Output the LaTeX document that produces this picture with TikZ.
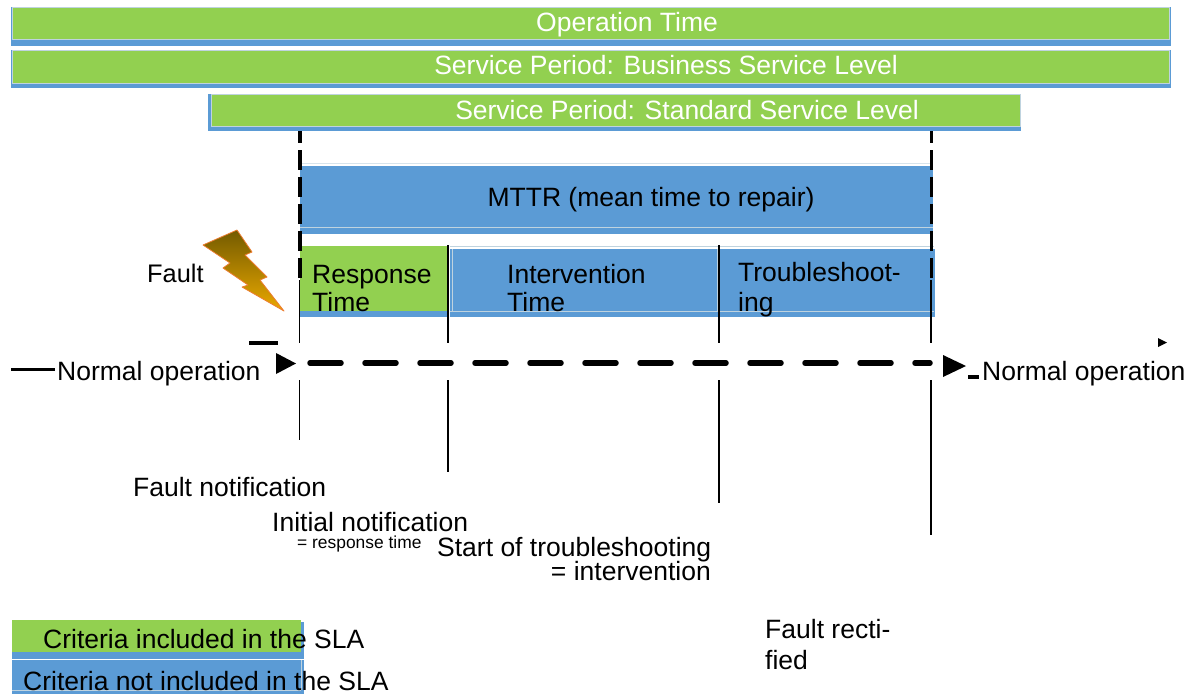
\documentclass[tikz,border=0pt]{standalone}
\usepackage{fontspec}
\setmainfont{Liberation Sans}
\definecolor{barG}{HTML}{92D050}
\definecolor{barB}{HTML}{5B9BD5}
\definecolor{edgeL}{HTML}{BFD3DF}
\definecolor{boltTop}{HTML}{735A00}
\definecolor{boltBot}{HTML}{EBA900}
\definecolor{boltEdge}{HTML}{ED7D31}
\tikzset{
  blueband/.style={fill=barB,draw=none},
  greenband/.style={fill=barG,draw=edgeL,line width=.8pt},
  lab/.style={font=\fontsize{26.5}{30}\selectfont,anchor=base west,inner sep=0pt,text=black},
  whitelab/.style={font=\fontsize{26.5}{30}\selectfont,anchor=base,inner sep=0pt,text=white},
  tick/.style={draw=black,line width=1.2pt},
  dashv/.style={draw=black,line width=3.2pt,dash pattern=on 20pt off 7pt,dash phase=8pt},
  dashh/.style={draw=black,line width=5.5pt,line cap=round,dash pattern=on 31pt off 24pt},
  tri/.style={fill=black,draw=none},
}
\newcommand{\bandbar}[8]{% name x0 y0 x1 ymid y1 greenx0 greenx1
  \path[blueband] (#2,#3) rectangle (#4,#6);
  \path[greenband] (#7,#3) rectangle (#8,#5);
  \coordinate (#1) at ({(#2+#4)/2},{(#3+#5)/2});
}
\begin{document}
\begin{tikzpicture}[x=1pt,y=-1pt]
\useasboundingbox[fill=white] (0,0) rectangle (1194,694);
% top bars
\bandbar{opbar}{11}{7}{1171}{39.5}{46}{12}{1169}
\bandbar{busbar}{11}{50}{1171}{83}{88}{12}{1169}
\bandbar{stdbar}{208}{94}{1021}{126.5}{131}{211}{1020}
\node[whitelab] (optime) at (627,31) {Operation Time};
\node[whitelab] (bustime) at (666,74) {Service Period: Business Service Level};
\node[whitelab] (stdtime) at (687,119) {Service Period: Standard Service Level};
% MTTR band
\draw[edgeL!60,line width=.8pt] (301,163) -- (932,163);
\path[blueband] (300,166) rectangle (933,233.5);
\draw[edgeL,line width=.8pt] (300,227) -- (933,227);
\node[font=\fontsize{26.5}{30}\selectfont,inner sep=0pt,anchor=base] (mttr) at (651,206) {MTTR (mean time to repair)};
% phases
\path[blueband] (300,246) rectangle (448,317);
\path[fill=barG] (300,246) rectangle (448,311);
\path[blueband] (450,249) rectangle (935,317);
\draw[edgeL,line width=.8pt] (450,246) -- (934,246);
\draw[edgeL,line width=.8pt] (450,311) -- (934,311);
\draw[edgeL,line width=.8pt] (452,249) -- (452,311);
\draw[edgeL,line width=.8pt] (717,249) -- (717,311);
\node[lab] (resp1) at (312,283) {Response};
\node[lab] (resp2) at (312,311) {Time};
\node[lab] (int1) at (507,283) {Intervention};
\node[lab] (int2) at (507,311) {Time};
\node[lab] (tr1) at (738,281) {Troubleshoot-};
\node[lab] (tr2) at (738,311) {ing};
% named ends of the markers
\foreach \n/\x/\a/\b/\c/\d in {p/299.5/280/343/380/440,q/448/245/343/380/472,r/719/245/343/380/503,s/931/280/343/380/535}{
  \coordinate (\n1) at (\x,\a);
  \coordinate (\n2) at (\x,\b);
  \coordinate (\n3) at (\x,\c);
  \coordinate (\n4) at (\x,\d);
  \draw[tick] (\n1) -- (\n2);
  \draw[tick] (\n3) -- (\n4);
}
\coordinate (pt) at (300,131); \coordinate (pb) at (300,280);
\coordinate (st) at (931.5,131); \coordinate (sb) at (931.5,280);
\draw[dashv] (pt) -- (pb);
\draw[dashv] (st) -- (sb);
% time axis
\coordinate (ha) at (310,363); \coordinate (hb) at (930,363);
\draw[dashh] (ha) -- (hb);
\path[tri] (276,353) -- (296,363.5) -- (276,374) -- cycle;
\path[tri] (943,355) -- (966,366) -- (943,377) -- cycle;
\path[tri] (1158,338) -- (1167,342.5) -- (1158,347) -- cycle;
\path[fill=black] (249,341) rectangle (278,344.5);
\path[fill=black] (11,367.5) rectangle (55,370.5);
\path[fill=black] (968,375) rectangle (979,379);
% bolt
\path[shade,top color=boltTop,bottom color=boltBot,draw=boltEdge,line width=.8pt,line join=round]
  (237,230) -- (203,245) -- (230,263) -- (223,268) -- (248,285) -- (242,287) -- (284,311)
  -- (260,280) -- (267,277) -- (245,255) -- (252,252) -- cycle;
% texts
\node[lab,font=\fontsize{25.4}{30}\selectfont] (fault) at (147,282) {Fault};
\node[lab] (normL) at (57,380) {Normal operation};
\node[lab] (normR) at (982,380) {Normal operation};
\node[lab] (fn) at (133,496) {Fault notification};
\node[lab] (inin) at (272,531) {Initial notification};
\node[lab,font=\fontsize{17.4}{20}\selectfont] (rt) at (297,548) {= response time};
\node[lab] (sot) at (437,556) {Start of troubleshooting};
\node[lab,anchor=base east] (inte) at (711,580) {= intervention};
\node[lab] (fr1) at (765,638) {Fault recti-};
\node[lab] (fr2) at (765,669) {fied};
% legend
\path[blueband] (12,622) rectangle (304,660);
\path[fill=barG] (12,620) rectangle (301,652);
\draw[white,line width=.8pt] (12,659) -- (304,659);
\path[blueband] (12,660) rectangle (304,693.5);
\draw[edgeL,line width=.8pt] (12,690) -- (301,690);
\draw[edgeL,line width=.8pt] (301,660) -- (301,690);
\node[lab] (leg1) at (43,648) {Criteria included in the SLA};
\node[lab] (leg2) at (23,690.5) {Criteria not included in the SLA};
\end{tikzpicture}
\end{document}
